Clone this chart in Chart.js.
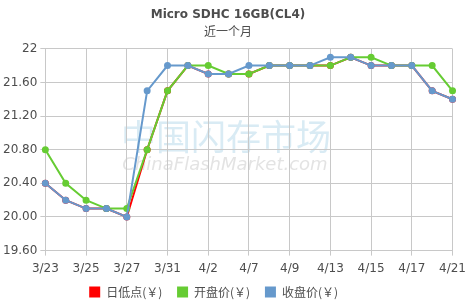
<!DOCTYPE html>
<html>
<head>
<meta charset="utf-8">
<script src="https://cdn.jsdelivr.net/npm/chart.js@4/dist/chart.umd.min.js"></script>
<style>
  html, body { margin: 0; padding: 0; background: #fff; }
  #wrap { width: 472px; height: 303px; }
</style>
</head>
<body>
<div id="wrap"><canvas id="chart" width="472" height="303"></canvas></div>
<script>
'use strict';
var dates = ['3/23','3/24','3/25','3/26','3/27','3/30','3/31','4/1','4/2','4/3','4/7','4/8','4/9','4/10','4/13','4/14','4/15','4/16','4/17','4/20','4/21'];
var lowPrice = [20.4,20.2,20.1,20.1,20.0,20.8,21.5,21.8,21.7,21.7,21.7,21.8,21.8,21.8,21.8,21.9,21.8,21.8,21.8,21.5,21.4];
var openPrice = [20.8,20.4,20.2,20.1,20.1,20.8,21.5,21.8,21.8,21.7,21.7,21.8,21.8,21.8,21.8,21.9,21.9,21.8,21.8,21.8,21.5];
var closePrice = [20.4,20.2,20.1,20.1,20.0,21.5,21.8,21.8,21.7,21.7,21.8,21.8,21.8,21.8,21.9,21.9,21.8,21.8,21.8,21.5,21.4];
var seriesNames = ['日低点(￥)','开盘价(￥)','收盘价(￥)'];
var seriesColors = ['#ff0000','#66cc33','#6699cc'];
var yMin = 19.6, yMax = 22, yStep = 0.4;

var canvas = document.getElementById('chart');
var ctx = canvas.getContext('2d');

//faint watermark, drawn first so the grid sits on top
var watermark = {
  id: 'watermark',
  beforeDraw: function(chart){
    var c = chart.ctx;
    c.save();
    c.textAlign = 'center';
    c.textBaseline = 'middle';
    c.fillStyle = 'rgba(170,210,230,0.45)';
    c.font = '35px "Noto Sans CJK SC"';
    c.fillText('中国闪存市场', 226, 137);
    c.fillStyle = 'rgba(200,200,200,0.5)';
    c.font = 'italic 18px "DejaVu Sans"';
    c.fillText('ChinaFlashMarket.com', 225, 165);
    c.restore();
  }
};

function makeSet(i, data){
  return {
    label: seriesNames[i],
    data: data,
    borderColor: seriesColors[i],
    backgroundColor: seriesColors[i],
    borderWidth: 2,
    pointRadius: 2.5,
    pointHoverRadius: 3,
    tension: 0,
    order: 3 - i
  };
}

var chart = new Chart(ctx, {
  type: 'line',
  data: {
    labels: dates,
    datasets: [makeSet(0, lowPrice), makeSet(1, openPrice), makeSet(2, closePrice)]
  },
  plugins: [watermark],
  options: {
    responsive: false,
    animation: false,
    layout: { padding: { left: 0, right: 16, top: 0, bottom: -5 } },
    plugins: {
      title: {
        display: true,
        text: 'Micro SDHC 16GB(CL4)',
        color: '#4d4d4d',
        font: { family: 'DejaVu Sans', size: 12, weight: 'bold' },
        padding: { top: 8, bottom: 2 }
      },
      subtitle: {
        display: true,
        text: '近一个月',
        color: '#4d4d4d',
        font: { family: 'Noto Sans CJK SC', size: 12 },
        padding: { top: 0, bottom: 10 }
      },
      legend: {
        position: 'bottom',
        labels: {
          color: '#4d4d4d',
          font: { family: 'Noto Sans CJK SC', size: 12 },
          boxWidth: 11,
          boxHeight: 11,
          padding: 4,
          generateLabels: function(ch){
            return ch.data.datasets.map(function(d, i){
              var txt = d.label + '    ';
              if (i === 2) txt += '\u3000\u2002';
              return { text: txt, fillStyle: d.borderColor, strokeStyle: d.borderColor, lineWidth: 0, datasetIndex: i, fontColor: '#4d4d4d' };
            });
          }
        }
      },
      tooltip: { enabled: false }
    },
    scales: {
      x: {
        grid: { color: '#c8c8c8', tickLength: 5, drawTicks: true },
        border: { color: '#c8c8c8' },
        ticks: {
          color: '#4d4d4d',
          font: { family: 'DejaVu Sans', size: 12 },
          autoSkip: false,
          maxRotation: 0,
          padding: 6,
          callback: function(v, i){ return i % 2 === 0 ? dates[i] : null; }
        }
      },
      y: {
        min: yMin,
        max: yMax,
        grid: { color: '#c8c8c8', tickLength: 5 },
        border: { color: '#c8c8c8' },
        ticks: {
          stepSize: yStep,
          color: '#4d4d4d',
          font: { family: 'DejaVu Sans', size: 12 },
          padding: 3,
          callback: function(v){ return Math.abs(v - 22) < 1e-6 ? '22' : v.toFixed(2); }
        }
      }
    }
  }
});
</script>
</body>
</html>
